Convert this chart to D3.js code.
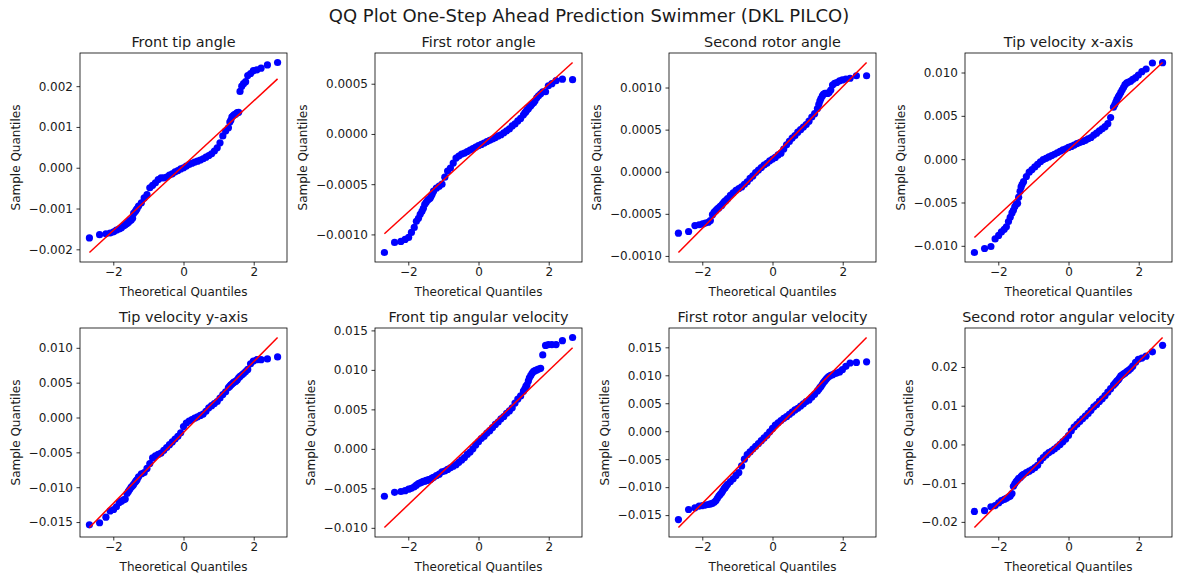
<!DOCTYPE html>
<html>
<head>
<meta charset="utf-8">
<script src="https://cdn.jsdelivr.net/npm/d3@7"></script>
<style>
body { margin: 0; background: #fff; }
svg text { font-family: "DejaVu Sans", sans-serif; fill: #1a1a1a; }
</style>
</head>
<body>
<svg id="fig" width="1178" height="581"></svg>
<script>
// theoretical normal quantiles, same for every panel (tails follow the plotting positions)
var theoretical = [
    -2.68, -2.39, -2.21, -2.09, -1.99, -1.91, -1.83, -1.77, -1.71, -1.66, -1.61, -1.57, -1.53, -1.49, -1.45, -1.42, -1.38, -1.35, -1.32,
    -1.28, -1.20, -1.12, -1.04, -0.96, -0.88, -0.80, -0.72, -0.64, -0.56, -0.48, -0.40, -0.32, -0.24, -0.16, -0.08,
    0, 0.08, 0.16, 0.24, 0.32, 0.40, 0.48, 0.56, 0.64, 0.72, 0.80, 0.88, 0.96, 1.04, 1.12, 1.20, 1.28,
    1.32, 1.35, 1.38, 1.42, 1.45, 1.49, 1.53, 1.57, 1.61, 1.66, 1.71, 1.77, 1.83, 1.91, 1.99, 2.09, 2.21, 2.39, 2.68
];

// sample quantiles
var frontTipAngle = [
    -0.00172, -0.00164, -0.00162, -0.0016, -0.00157, -0.00153, -0.0015, -0.00147, -0.00143, -0.0014, -0.00137, -0.00134, -0.0013, -0.00128, -0.00124, -0.00112, -0.00108, -0.00104, -0.001,
    -0.00094, -0.00086, -0.00074, -0.00066, -0.00049, -0.00043, -0.00037, -0.00029, -0.00025, -0.00025, -0.00023, -0.00018, -0.00015, -0.0001, -0.00007, -0.00003,
    0, 0.00004, 0.00008, 0.00011, 0.00014, 0.00016, 0.00019, 0.00022, 0.00026, 0.0003, 0.00034, 0.00041, 0.00049, 0.00061, 0.00078, 0.0009, 0.00098,
    0.00112, 0.00117, 0.00125, 0.00128, 0.0013, 0.00132, 0.00135, 0.00136, 0.00187, 0.002, 0.00206, 0.00211, 0.00226, 0.00231, 0.00238, 0.0024, 0.00244, 0.00252, 0.00258
];
var firstRotorAngle = [
    -0.00118, -0.00108, -0.00107, -0.00105, -0.00103, -0.00098, -0.00093, -0.00087, -0.00084, -0.0008, -0.00077, -0.00074, -0.0007, -0.00068, -0.00066, -0.00065, -0.00064, -0.00062, -0.0006,
    -0.00057, -0.00054, -0.00052, -0.0005, -0.00043, -0.00037, -0.00034, -0.00029, -0.00024, -0.00022, -0.0002, -0.00019, -0.000175, -0.00016, -0.000145, -0.00013,
    -0.000117, -0.000104, -0.00009, -0.000076, -0.000063, -0.00005, -0.000036, -0.00002, -0.000008, 0.000012, 0.00003, 0.00005, 0.00008, 0.0001, 0.00013, 0.000155, 0.00019,
    0.00021, 0.00022, 0.00024, 0.00025, 0.00027, 0.00028, 0.0003, 0.00031, 0.00033, 0.00036, 0.00038, 0.0004, 0.00042, 0.00042, 0.00048, 0.0005, 0.00053, 0.000545, 0.00054
];
var secondRotorAngle = [
    -0.00073, -0.00071, -0.00064, -0.00063, -0.00062, -0.00061, -0.0006, -0.00058, -0.00051, -0.00048, -0.00046, -0.00044, -0.00043, -0.00041, -0.0004, -0.00038, -0.00036, -0.00035, -0.00034,
    -0.00032, -0.00028, -0.00025, -0.00022, -0.0002, -0.00018, -0.00015, -0.00012, -0.00008, -0.00005, -0.00001, 0.00002, 0.00005, 0.00008, 0.0001, 0.00013,
    0.00015, 0.00017, 0.0002, 0.00022, 0.00027, 0.00032, 0.00036, 0.0004, 0.00043, 0.00047, 0.0005, 0.00053, 0.00056, 0.0006, 0.00065, 0.00069, 0.00075,
    0.0008, 0.00084, 0.00087, 0.0009, 0.00092, 0.00093, 0.00093, 0.00093, 0.00094, 0.00097, 0.00103, 0.00105, 0.00106, 0.00108, 0.00109, 0.0011, 0.00111, 0.00114, 0.00114
];
var tipVelocityX = [
    -0.01077, -0.01031, -0.01008, -0.0092, -0.0088, -0.0084, -0.0081, -0.0078, -0.0072, -0.0067, -0.0062, -0.0059, -0.0055, -0.0052, -0.0051, -0.0044, -0.0037, -0.0032, -0.0029,
    -0.0026, -0.002, -0.0015, -0.0012, -0.0009, -0.0006, -0.0003, -0.00005, 0.0001, 0.00026, 0.00042, 0.00057, 0.00074, 0.0009, 0.00107, 0.0012,
    0.00136, 0.00147, 0.00163, 0.0018, 0.00192, 0.00205, 0.00218, 0.00235, 0.0025, 0.00278, 0.003, 0.00327, 0.0035, 0.00375, 0.0041, 0.0048, 0.006,
    0.0063, 0.0066, 0.0069, 0.0072, 0.0074, 0.0077, 0.008, 0.0083, 0.0086, 0.0088, 0.0089, 0.009, 0.0092, 0.0094, 0.0097, 0.0101, 0.0104, 0.0111, 0.01114
];
var tipVelocityY = [
    -0.0154, -0.0151, -0.0143, -0.0134, -0.0132, -0.0128, -0.0122, -0.012, -0.0118, -0.0117, -0.0109, -0.0106, -0.0103, -0.01, -0.0098, -0.0096, -0.0093, -0.0091, -0.0089,
    -0.0085, -0.0081, -0.0079, -0.0073, -0.0066, -0.0058, -0.0055, -0.0053, -0.0051, -0.0047, -0.0043, -0.0039, -0.0035, -0.0031, -0.0027, -0.0022,
    -0.0013, -0.0008, -0.0005, -0.0003, -0.0001, 0.0001, 0.0003, 0.0005, 0.0009, 0.0014, 0.0017, 0.002, 0.0023, 0.0028, 0.0033, 0.0037, 0.0043,
    0.0045, 0.0047, 0.0048, 0.005, 0.0051, 0.0052, 0.0054, 0.0057, 0.0059, 0.0061, 0.0063, 0.0066, 0.0069, 0.0077, 0.0081, 0.0083, 0.0083, 0.0084, 0.0087
];
var frontTipAngVel = [
    -0.006, -0.0055, -0.0054, -0.0053, -0.0051, -0.005, -0.0048, -0.0046, -0.0044, -0.0043, -0.0042, -0.0041, -0.0041, -0.004, -0.004, -0.0039, -0.0039, -0.0038, -0.0037,
    -0.0036, -0.0034, -0.0032, -0.0029, -0.0028, -0.0026, -0.0024, -0.0022, -0.002, -0.0017, -0.0014, -0.0011, -0.0007, -0.0004, 0, 0.0005,
    0.0009, 0.0013, 0.0016, 0.002, 0.0023, 0.0027, 0.0031, 0.0034, 0.0038, 0.0041, 0.0045, 0.0048, 0.0052, 0.0058, 0.0063, 0.0067, 0.0073,
    0.0076, 0.0079, 0.0081, 0.0086, 0.009, 0.0093, 0.0096, 0.0098, 0.0099, 0.01, 0.0101, 0.0102, 0.0119, 0.0131, 0.0132, 0.0132, 0.0132, 0.0137, 0.0141
];
var firstRotorAngVel = [
    -0.0158, -0.014, -0.0137, -0.0134, -0.0133, -0.0132, -0.0131, -0.013, -0.0129, -0.0127, -0.0124, -0.012, -0.0116, -0.0113, -0.011, -0.0107, -0.0103, -0.0101, -0.0098,
    -0.0095, -0.009, -0.0085, -0.0079, -0.0074, -0.0062, -0.005, -0.0042, -0.0037, -0.0032, -0.0027, -0.0022, -0.0017, -0.0012, -0.0007, -0.0001,
    0.0005, 0.0011, 0.0015, 0.0019, 0.0023, 0.0026, 0.003, 0.0034, 0.0038, 0.0041, 0.0045, 0.0049, 0.0053, 0.0056, 0.0061, 0.0066, 0.0072,
    0.0075, 0.0078, 0.008, 0.0084, 0.0087, 0.009, 0.0093, 0.0096, 0.0098, 0.01, 0.0101, 0.0103, 0.0104, 0.0106, 0.011, 0.0116, 0.0122, 0.0123, 0.0124
];
var secondRotorAngVel = [
    -0.0173, -0.0171, -0.0161, -0.0158, -0.0151, -0.0145, -0.0142, -0.0139, -0.0136, -0.0133, -0.0127, -0.0108, -0.0102, -0.0096, -0.0092, -0.0088, -0.0086, -0.0083, -0.008,
    -0.0077, -0.0073, -0.0069, -0.0065, -0.006, -0.0054, -0.0042, -0.0034, -0.0027, -0.0021, -0.0017, -0.0012, -0.0006, 0, 0.0007, 0.0014,
    0.0023, 0.0035, 0.0045, 0.0052, 0.0059, 0.0066, 0.0073, 0.008, 0.0088, 0.0097, 0.0103, 0.0111, 0.0118, 0.0126, 0.0135, 0.0144, 0.0153,
    0.0157, 0.016, 0.0164, 0.0167, 0.0171, 0.0177, 0.0179, 0.0182, 0.0184, 0.0188, 0.0191, 0.0196, 0.0202, 0.0212, 0.022, 0.0223, 0.0228, 0.0239, 0.0256
];

var titles = ['Front tip angle', 'First rotor angle', 'Second rotor angle', 'Tip velocity x-axis',
    'Tip velocity y-axis', 'Front tip angular velocity', 'First rotor angular velocity', 'Second rotor angular velocity'];
var series = [frontTipAngle, firstRotorAngle, secondRotorAngle, tipVelocityX,
    tipVelocityY, frontTipAngVel, firstRotorAngVel, secondRotorAngVel];

// red reference line (standardized fit): intercept and slope per panel
var lineIntercept = [0.00005, -0.000141, 0.000169, 0.00106, -0.00215, 0.00142, -0.00023, 0.00308];
var lineSlope = [0.000794, 0.000318, 0.000421, 0.003767, 0.005086, 0.004245, 0.006338, 0.009153];

// tick labels
var xTicks = [-2, 0, 2];
var yTicks = [
    [-0.002, -0.001, 0, 0.001, 0.002],
    [-0.001, -0.0005, 0, 0.0005],
    [-0.001, -0.0005, 0, 0.0005, 0.001],
    [-0.01, -0.005, 0, 0.005, 0.01],
    [-0.015, -0.01, -0.005, 0, 0.005, 0.01],
    [-0.01, -0.005, 0, 0.005, 0.01, 0.015],
    [-0.015, -0.01, -0.005, 0, 0.005, 0.01, 0.015],
    [-0.02, -0.01, 0, 0.01, 0.02]
];
var yFormats = ['.3f', '.4f', '.4f', '.3f', '.3f', '.3f', '.3f', '.2f'];


var svg = d3.select('#fig');
var colLeft = [80, 375, 669, 965];
var rowTop = [53, 328];
var axW = 207, axH = 209;

svg.append('text')
    .attr('x', 589)
    .attr('y', 22)
    .style('font-size', '18px')
    .style('text-anchor', 'middle')
    .text('QQ Plot One-Step Ahead Prediction Swimmer (DKL PILCO)');

function drawPanel(k) {
    var left = colLeft[k % 4], top = rowTop[Math.floor(k / 4)];
    var values = series[k];

    var x0 = d3.min(theoretical), x1 = d3.max(theoretical);
    var lineY = [lineIntercept[k] + lineSlope[k] * x0, lineIntercept[k] + lineSlope[k] * x1];
    var lo = d3.min(values.concat(lineY)), hi = d3.max(values.concat(lineY));
    var ypad = (hi - lo) * 0.05, xpad = (x1 - x0) * 0.05;

    var x = d3.scaleLinear().domain([x0 - xpad, x1 + xpad]).range([0, axW]);
    var y = d3.scaleLinear().domain([lo - ypad, hi + ypad]).range([axH, 0]);

    var g = svg.append('g').attr('transform', 'translate(' + left + ',' + top + ')');

    // sample points
    g.selectAll('circle.pt')
        .data(values).enter()
        .append('circle')
        .attr('class', 'pt')
        .attr('cx', function(d, i) { return x(theoretical[i]); })
        .attr('cy', function(d) { return y(d); })
        .attr('r', 3.6)
        .style('fill', '#0000ff');

    // fitted line on top
    g.append('line')
        .attr('x1', x(x0)).attr('y1', y(lineY[0]))
        .attr('x2', x(x1)).attr('y2', y(lineY[1]))
        .style('stroke', '#ff0000')
        .style('stroke-width', 1.5);

    // axes
    var xa = g.append('g')
        .attr('transform', 'translate(0,' + axH + ')')
        .call(d3.axisBottom(x).tickValues(xTicks).tickSize(3.5).tickPadding(2).tickFormat(d3.format('d')));
    var ya = g.append('g')
        .call(d3.axisLeft(y).tickValues(yTicks[k]).tickSize(3.5).tickPadding(3.5).tickFormat(d3.format(yFormats[k])));

    [xa, ya].forEach(function(a) {
        a.select('.domain').remove();
        a.attr('font-family', null).attr('font-size', null);
        a.selectAll('line').style('stroke', '#000').style('stroke-width', 0.8);
        a.selectAll('text').style('font-size', '12px').style('fill', '#1a1a1a');
    });

    g.append('rect')
        .attr('width', axW)
        .attr('height', axH)
        .style('fill', 'none')
        .style('stroke', '#000')
        .style('stroke-width', 0.8);

    // labels
    g.append('text')
        .attr('x', axW / 2)
        .attr('y', -6)
        .style('font-size', '14.4px')
        .style('text-anchor', 'middle')
        .text(titles[k]);

    g.append('text')
        .attr('x', axW / 2)
        .attr('y', axH + 34)
        .style('font-size', '12px')
        .style('text-anchor', 'middle')
        .text('Theoretical Quantiles');

    var bb = ya.node().getBBox();
    g.append('text')
        .attr('transform', 'translate(' + (bb.x - 8.5) + ',' + (axH / 2) + ') rotate(-90)')
        .style('font-size', '12px')
        .style('text-anchor', 'middle')
        .text('Sample Quantiles');
}

for (var k = 0; k < series.length; k++) drawPanel(k);
</script>
</body>
</html>
